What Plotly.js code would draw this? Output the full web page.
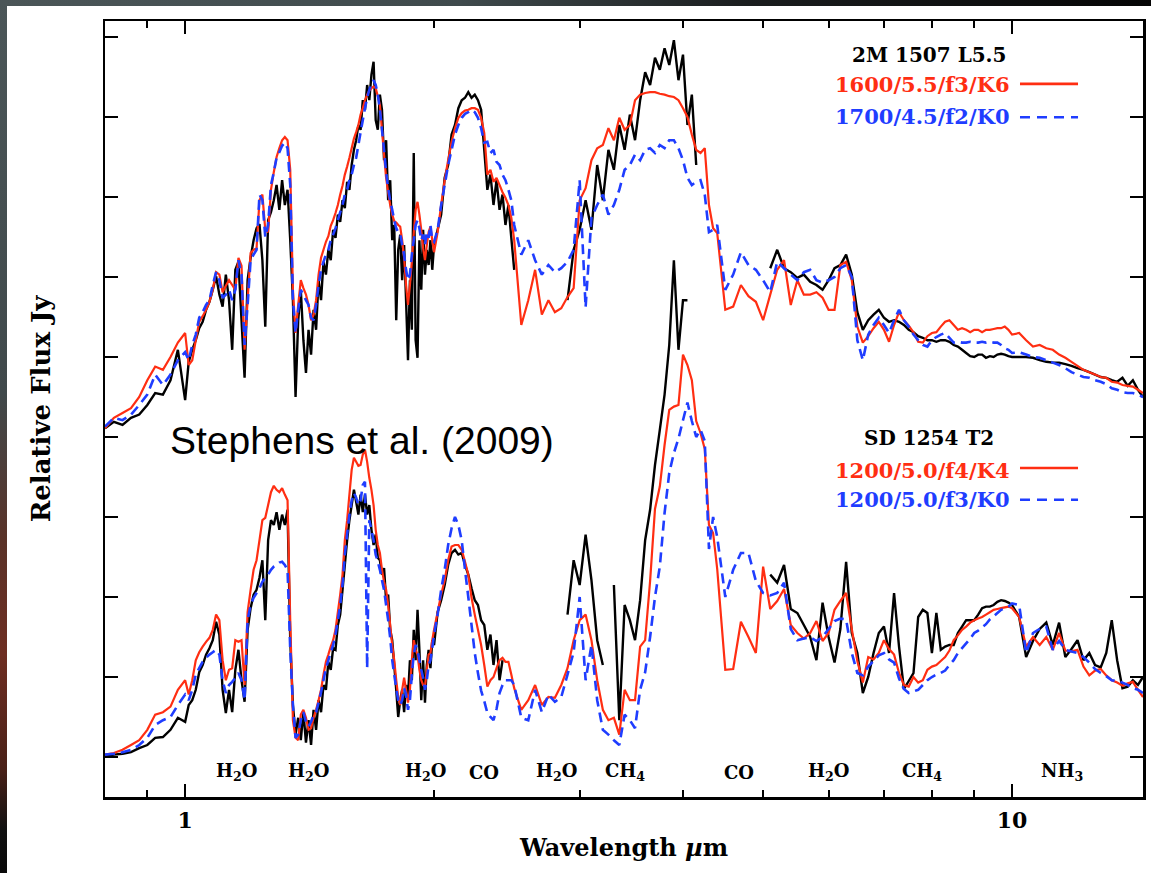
<!DOCTYPE html>
<html>
<head>
<meta charset="utf-8">
<script src="https://cdn.plot.ly/plotly-3.0.1.min.js"></script>
<style>
html, body { margin: 0; padding: 0; background: #fff; }
#wrap { position: relative; width: 1151px; height: 873px; overflow: hidden; }
#chart { position: absolute; left: 0; top: 0; width: 1151px; height: 873px; }
#edgeTop { position: absolute; left: 0; top: 0; width: 1151px; height: 6px;
  background: linear-gradient(to right, #4b5658 0%, #3f4a4c 40%, #1a1d1e 65%, #050505 100%); }
#edgeLeft { position: absolute; left: 0; top: 0; width: 7px; height: 873px;
  background: linear-gradient(to bottom, #4b5658 0%, #40494b 45%, #5a3228 62%, #6e2e22 75%, #4a2118 88%, #111 95%, #0a0a0a 100%); }
</style>
</head>
<body>
<div id="wrap">
  <div id="chart"></div>
  <div id="edgeTop"></div>
  <div id="edgeLeft"></div>
</div>
<script>
// Wavelength grid (micron) shared by all spectra
const wavelength = [
  0.80,0.82,0.84,0.86,0.88,0.90,0.92,0.94,0.96,0.98,
  1.00,1.01,1.02,1.03,1.04,1.05,1.06,1.07,1.08,1.09,
  1.10,1.11,1.12,1.13,1.14,1.15,1.16,1.17,1.18,1.19,
  1.20,1.21,1.22,1.23,1.24,1.25,1.26,1.27,1.28,1.29,
  1.30,1.31,1.32,1.33,1.34,1.35,1.36,1.37,1.38,1.39,
  1.40,1.41,1.42,1.43,1.44,1.45,1.46,1.47,1.48,1.49,
  1.50,1.51,1.52,1.53,1.54,1.55,1.56,1.57,1.58,1.59,
  1.60,1.61,1.62,1.63,1.64,1.65,1.66,1.67,1.68,1.69,
  1.70,1.71,1.72,1.73,1.74,1.75,1.76,1.77,1.78,1.79,
  1.80,1.81,1.82,1.83,1.84,1.85,1.86,1.87,1.88,1.89,
  1.90,1.91,1.92,1.93,1.94,1.95,1.96,1.97,1.98,1.99,
  2.00,
  2.02,2.04,2.06,2.08,2.10,2.12,2.14,2.16,2.18,2.20,2.22,2.24,2.26,2.28,2.30,2.32,2.34,2.36,2.38,2.40,2.42,2.44,2.46,2.48,2.50,
  2.55,2.60,2.65,2.70,2.75,2.80,2.85,2.90,2.95,3.00,
  3.05,3.10,3.15,3.20,3.25,3.30,3.35,3.40,3.45,3.50,
  3.55,3.60,3.65,3.70,3.75,3.80,3.85,3.90,3.95,4.00,
  4.05,4.10,4.15,4.20,4.25,4.30,4.35,4.40,
  4.5,4.6,4.7,4.8,4.9,5.0,5.1,5.2,5.3,5.4,
  5.5,5.6,5.7,5.8,5.9,6.0,6.1,6.2,6.3,6.4,
  6.5,6.6,6.7,6.8,6.9,7.0,7.1,7.2,7.3,7.4,
  7.5,7.6,7.7,7.8,7.9,8.0,8.1,8.2,8.3,8.4,
  8.5,8.6,8.7,8.8,8.9,9.0,9.1,9.2,9.3,9.4,
  9.5,9.6,9.7,9.8,9.9,10.0,
  10.2,10.4,10.6,10.8,11.0,11.2,11.4,11.6,11.8,12.0,12.2,12.4,12.6,12.8,13.0,13.2,13.4,13.6,13.8,14.0,14.2,14.4
];

// 2M 1507 L5.5 (offset upward) -- observed spectrum
const l55Observed = [
  4.11,4.19,4.15,4.24,4.28,4.40,4.55,4.53,4.71,5.09,
  4.46,4.94,5.09,5.21,5.36,5.44,5.59,5.69,5.84,6.01,
  5.78,5.63,6.03,5.71,5.09,6.09,6.19,5.46,4.74,5.96,
  6.24,6.46,6.61,6.66,6.21,5.38,6.71,6.81,6.96,7.15,
  6.84,7.21,6.90,7.09,6.46,5.71,4.50,5.46,5.84,5.21,
  4.80,5.34,5.03,5.59,5.34,5.96,5.71,6.19,6.03,6.34,
  6.21,6.59,6.49,6.78,6.69,6.96,6.86,7.19,7.09,7.40,
  7.59,7.71,7.90,7.84,8.21,8.09,8.40,8.21,8.53,8.69,
  7.96,7.84,8.28,8.09,7.46,7.71,6.96,7.21,6.46,6.65,
  5.46,6.34,6.53,5.96,6.40,5.71,4.96,5.96,5.34,7.55,
  5.21,4.99,6.46,5.84,6.59,6.03,6.34,6.15,6.46,6.09,
  6.40,
  6.59,6.78,7.24,7.40,7.78,7.90,8.11,8.21,8.24,8.31,8.24,8.28,8.21,8.09,7.59,7.09,7.28,6.90,7.21,6.84,7.03,6.65,6.90,6.49,6.09,
  null,null,null,null,null,null,null,5.71,6.34,6.59,
  6.96,6.59,7.40,6.96,7.59,7.34,7.90,7.59,8.03,7.71,
  8.21,8.56,8.40,8.74,8.59,8.86,8.65,8.96,8.46,8.78,
  7.90,8.28,7.40,null,null,null,null,null,
  null,null,null,null,null,null,6.11,6.34,6.11,6.06,
  5.99,6.03,5.94,5.90,5.84,5.96,6.11,6.15,6.28,6.03,
  5.56,5.34,5.46,5.53,5.59,5.49,5.44,5.46,5.44,5.40,
  5.34,5.31,5.26,5.24,5.21,5.21,5.19,5.21,5.21,5.19,
  5.15,5.13,5.09,5.05,5.01,5.00,5.03,5.03,4.99,5.01,
  5.00,5.03,5.04,5.03,5.01,5.00,
  5.00,5.00,4.99,4.96,4.94,4.93,4.93,4.91,4.89,4.86,4.84,4.81,4.78,4.75,4.74,4.71,4.69,4.74,4.64,4.71,4.59,4.50
];

// Model 1600/5.5/f3/K6
const l55ModelA = [
  4.11,4.24,4.30,4.36,4.50,4.71,4.88,4.84,5.00,5.18,
  5.30,4.90,4.96,5.21,5.44,5.51,5.59,5.69,5.84,6.06,
  6.03,5.81,5.89,5.96,5.90,5.84,6.24,6.14,5.09,5.71,
  6.30,6.34,6.36,6.96,7.03,6.59,6.56,7.09,7.31,7.50,
  7.61,7.71,7.75,7.71,7.34,5.84,5.30,5.65,5.96,5.86,
  5.78,5.65,5.46,5.53,5.71,6.03,6.24,6.34,6.44,6.51,
  6.64,6.71,6.80,6.90,7.03,7.14,7.28,7.38,7.49,7.61,
  7.73,7.81,7.90,8.03,8.11,8.21,8.28,8.33,8.36,8.38,
  8.36,8.26,8.15,7.84,7.53,7.24,7.06,6.90,6.78,6.70,
  6.68,6.65,6.63,6.46,6.24,5.90,5.65,5.90,6.19,6.55,
  6.84,6.94,6.78,6.59,6.36,6.21,6.40,6.56,6.63,6.46,
  6.31,
  6.56,6.90,7.21,7.46,7.69,7.86,7.99,8.05,8.08,8.09,8.11,8.11,8.09,7.99,7.80,7.28,7.34,7.19,7.24,7.15,7.06,6.99,6.90,6.74,6.46,
  5.40,5.71,6.09,5.53,5.71,5.56,5.61,5.75,5.86,6.96,
  7.11,7.46,7.61,7.65,7.86,7.71,7.99,7.84,7.90,8.21,
  8.28,8.30,8.31,8.31,8.29,8.28,8.26,8.25,8.21,8.11,
  8.00,7.78,7.59,7.55,7.61,6.90,6.61,6.55,
  5.59,5.63,5.90,5.76,5.69,5.46,5.78,6.09,6.21,5.65,
  5.96,5.78,5.78,5.81,5.74,5.59,5.59,6.15,6.19,5.96,
  5.38,5.18,5.26,5.36,5.44,5.34,5.19,5.40,5.56,5.46,
  5.39,5.31,5.19,5.18,5.26,5.30,5.31,5.38,5.44,5.46,
  5.40,5.34,5.36,5.34,5.31,5.34,5.34,5.31,5.34,5.34,
  5.35,5.36,5.36,5.38,5.34,5.28,
  5.30,5.21,5.13,5.15,5.11,5.09,5.03,4.99,4.94,4.89,4.84,4.81,4.78,4.75,4.74,4.69,4.68,4.65,4.64,4.63,4.59,4.55
];

// Model 1700/4.5/f2/K0
const l55ModelB = [
  4.13,4.24,4.21,4.28,4.40,4.53,4.78,4.65,4.78,4.96,
  5.06,4.96,5.15,5.28,5.49,5.56,5.65,5.71,5.90,6.06,
  5.96,5.74,5.78,5.84,5.71,5.84,6.21,6.03,5.15,5.65,
  6.21,6.28,6.34,7.03,6.96,6.50,6.65,7.15,7.31,7.49,
  7.56,7.64,7.68,7.61,7.15,5.71,5.30,5.59,5.84,5.78,
  5.71,5.65,5.49,5.46,5.65,5.90,6.09,6.19,6.28,6.34,
  6.46,6.53,6.61,6.71,6.81,6.90,7.03,7.09,7.21,7.28,
  7.40,7.49,7.65,7.81,7.96,8.11,8.24,8.34,8.41,8.46,
  8.40,8.28,8.09,7.84,7.59,7.31,7.11,6.96,6.84,6.71,
  6.61,6.56,6.55,6.40,6.28,6.09,5.96,6.03,6.28,6.46,
  6.65,6.71,6.61,6.46,6.53,6.40,6.56,6.49,6.65,6.46,
  6.44,
  6.59,6.90,7.15,7.40,7.59,7.78,7.90,7.99,8.04,8.06,8.09,8.06,7.99,7.86,7.68,7.69,7.55,7.59,7.44,7.40,7.28,7.21,7.09,6.96,6.65,
  6.28,6.46,6.21,6.03,6.15,6.06,6.11,6.19,6.34,7.21,
  5.62,6.74,6.90,7.03,6.78,6.90,7.09,7.34,7.40,7.53,
  7.46,7.59,7.61,7.55,7.65,7.61,7.71,7.71,7.61,7.46,
  7.24,7.15,7.19,7.21,7.03,6.56,6.59,6.65,
  5.84,6.03,6.31,6.15,6.09,5.96,5.81,6.19,6.11,6.03,
  5.96,6.06,6.09,5.96,5.93,5.96,6.00,6.11,6.15,6.00,
  5.21,4.96,5.28,5.40,5.49,5.40,5.30,5.46,5.59,5.46,
  5.38,5.28,5.21,5.15,5.13,5.21,5.25,5.28,5.30,5.24,
  5.18,5.19,5.18,5.18,5.19,5.18,5.18,5.19,5.18,5.19,
  5.18,5.18,5.15,5.11,5.09,5.05,
  5.06,5.03,5.00,4.99,4.96,4.93,4.90,4.86,4.81,4.78,4.75,4.74,4.71,4.69,4.66,4.61,4.59,4.56,4.55,4.55,4.53,4.50
];

// SD 1254 T2 -- observed spectrum
const t2Observed = [
  0.01,0.03,0.04,0.06,0.11,0.15,0.24,0.25,0.34,0.49,
  0.44,0.65,0.71,0.84,1.06,1.15,1.28,1.36,1.46,1.69,
  1.53,0.84,0.55,0.84,0.56,1.09,1.34,0.96,0.69,1.59,
  1.86,2.03,2.09,2.24,2.46,1.71,2.71,2.96,2.90,3.06,
  2.84,3.03,2.90,3.09,1.46,0.65,0.28,0.49,0.21,0.56,
  0.18,0.46,0.15,0.59,0.34,0.71,0.56,0.90,0.84,1.19,
  1.09,1.36,1.34,1.65,1.78,2.09,2.40,2.71,2.96,3.15,
  3.34,3.19,3.03,3.28,3.06,3.28,3.03,3.15,2.84,2.65,
  2.78,2.49,2.46,2.28,2.36,1.96,2.03,1.59,1.46,1.15,
  0.84,0.50,0.71,0.84,0.56,0.90,0.75,1.21,0.96,1.59,
  1.21,1.84,1.34,0.71,1.21,0.68,1.15,1.34,1.11,1.46,
  1.40,
  1.81,1.96,2.15,2.40,2.55,2.59,2.53,2.55,2.40,2.28,2.11,1.96,1.90,1.71,1.65,1.34,1.53,1.15,1.46,0.96,1.21,null,null,null,null,
  null,null,null,null,null,null,null,1.78,2.46,2.15,
  2.78,2.21,1.46,1.15,null,2.15,0.46,1.90,1.71,1.46,
  1.96,2.71,3.09,3.65,4.09,4.53,5.15,6.21,5.09,5.71,
  5.71,null,null,null,null,null,null,null,
  null,null,null,null,null,null,2.28,2.18,2.40,1.85,
  1.80,1.65,1.50,1.21,1.93,1.50,1.18,1.60,2.44,1.55,
  1.30,0.80,1.00,1.30,1.55,1.63,1.30,2.05,1.38,0.85,
  0.95,1.05,1.75,1.84,1.80,1.30,1.80,1.34,1.38,1.40,
  1.40,1.55,1.63,1.71,1.71,1.71,1.78,1.86,1.88,1.88,
  1.90,1.94,1.96,1.95,1.93,1.90,
  1.75,1.25,1.45,1.60,1.68,1.40,1.68,1.25,1.35,1.46,1.21,1.30,1.15,1.12,1.30,1.71,1.21,0.86,0.88,0.96,0.90,1.00
];

// Model 1200/5.0/f4/K4
const t2ModelA = [
  0.03,0.05,0.09,0.15,0.21,0.34,0.53,0.56,0.63,0.84,
  0.96,0.78,0.96,1.21,1.31,1.38,1.44,1.49,1.59,1.78,
  1.71,1.21,0.96,1.09,1.11,1.46,1.44,1.46,0.90,1.81,
  2.09,2.34,2.46,2.71,2.96,2.99,3.15,3.31,3.39,3.34,
  3.31,3.36,3.28,3.21,1.71,0.46,0.24,0.21,0.53,0.59,
  0.49,0.34,0.36,0.49,0.59,0.71,0.84,1.03,1.19,1.28,
  1.38,1.46,1.59,1.81,2.03,2.28,2.71,2.96,3.28,3.59,
  3.74,3.69,3.64,3.65,3.78,3.84,3.69,3.49,3.34,3.15,
  2.84,2.65,2.55,2.34,2.19,2.09,1.90,1.65,1.40,1.21,
  0.96,0.75,0.65,0.84,0.99,0.84,0.68,0.84,1.21,1.46,
  1.34,1.28,1.09,0.96,0.90,0.88,1.09,1.28,1.30,1.46,
  1.59,
  1.81,2.03,2.21,2.46,2.63,2.65,2.65,2.59,2.44,2.28,1.99,1.78,1.59,1.40,1.15,0.88,0.96,1.00,1.11,1.21,1.24,1.19,1.19,1.03,0.86,
  0.59,0.71,0.90,0.65,0.75,0.74,0.90,1.11,1.46,1.71,
  1.78,1.46,0.96,0.59,0.46,0.49,0.28,0.84,0.71,0.71,
  1.38,1.46,2.20,3.10,3.38,3.90,4.34,4.38,4.40,5.03,
  4.90,4.71,4.20,4.05,3.85,2.90,2.80,2.35,
  1.09,1.10,1.69,1.50,1.30,2.38,1.85,1.95,2.10,1.65,
  1.55,1.48,1.55,1.70,1.45,1.55,1.84,1.95,2.05,1.60,
  1.20,0.93,1.25,1.22,1.30,1.46,1.35,1.28,1.05,0.90,
  0.88,1.00,0.93,0.96,1.09,1.13,1.15,1.20,1.25,1.33,
  1.46,1.52,1.59,1.63,1.68,1.71,1.73,1.75,1.78,1.81,
  1.84,1.85,1.86,1.87,1.88,1.86,
  1.75,1.38,1.50,1.40,1.50,1.34,1.55,1.33,1.32,1.34,1.13,1.02,1.08,1.10,1.02,0.96,0.93,0.89,0.92,0.94,0.84,0.75
];

// Model 1200/5.0/f3/K0
const t2ModelB = [
  0.03,0.04,0.06,0.09,0.15,0.24,0.40,0.46,0.50,0.65,
  0.78,0.71,0.84,1.03,1.11,1.19,1.24,1.28,1.31,1.34,
  1.28,0.96,0.80,0.90,0.94,0.99,1.05,0.96,0.71,1.71,
  1.90,1.99,2.05,2.11,2.19,2.24,2.28,2.34,2.38,2.40,
  2.43,2.44,2.40,2.34,1.34,0.65,0.24,0.28,0.46,0.56,
  0.44,0.38,0.44,0.53,0.56,0.68,0.81,0.96,1.11,1.21,
  1.31,1.40,1.53,1.71,1.90,2.15,2.53,2.78,3.03,3.21,
  3.30,3.24,3.15,3.21,3.40,3.44,1.11,2.96,2.84,2.71,
  2.53,2.44,2.34,2.21,2.09,1.90,1.71,1.49,1.21,1.03,
  0.86,0.71,0.65,0.71,0.86,0.78,0.59,0.71,1.03,1.28,
  1.40,1.34,1.21,1.09,0.99,0.84,0.96,1.15,1.21,1.36,
  1.53,
  1.78,2.09,2.34,2.65,2.86,3.00,2.90,2.71,2.34,2.00,1.65,1.30,1.05,0.83,0.70,0.55,0.50,0.46,0.60,0.80,0.90,0.96,0.96,0.96,0.90,
  0.49,0.46,0.84,0.56,0.78,0.69,0.75,1.03,1.31,2.00,
  0.96,1.40,0.71,0.34,0.28,0.21,0.15,0.53,0.46,0.36,
  0.84,1.06,1.50,2.00,2.38,3.05,3.55,3.80,3.98,4.21,
  4.43,4.20,4.00,4.09,3.95,2.60,3.00,2.75,
  2.00,2.34,2.55,2.55,2.20,2.05,2.02,2.05,2.18,1.60,
  1.46,1.48,1.50,1.45,1.50,1.60,1.70,1.73,1.72,1.30,
  1.05,1.02,1.13,1.20,1.27,1.30,1.22,1.18,0.98,0.85,
  0.80,0.82,0.84,0.90,0.96,1.00,1.03,1.05,1.08,1.15,
  1.21,1.30,1.36,1.42,1.48,1.55,1.58,1.62,1.66,1.72,
  1.76,1.80,1.84,1.86,1.88,1.92,
  1.90,1.30,1.55,1.60,1.63,1.34,1.45,1.34,1.32,1.30,1.25,1.18,1.10,1.05,1.01,0.96,0.95,0.93,0.90,0.86,0.84,0.80
];

// Absorption band labels
const bandWave = [1.155, 1.41, 1.955, 2.30, 2.81, 3.40, 4.68, 6.0, 7.79, 11.5];
const bandText = ['H<sub>2</sub>O','H<sub>2</sub>O','H<sub>2</sub>O','CO','H<sub>2</sub>O','CH<sub>4</sub>','CO','H<sub>2</sub>O','CH<sub>4</sub>','NH<sub>3</sub>'];

// Key text for both objects
const upperKey = ['2M 1507 L5.5', '1600/5.5/f3/K6', '1700/4.5/f2/K0'];
const lowerKey = ['SD 1254 T2', '1200/5.0/f4/K4', '1200/5.0/f3/K0'];

const RED = '#ff2e12';
const BLUE = '#1f3dff';
const SERIF = '"DejaVu Serif", serif';

function spectrum(y, color, width, dash) {
  return {
    x: wavelength, y: y, type: 'scatter', mode: 'lines',
    connectgaps: false, hoverinfo: 'skip',
    line: { color: color, width: width, dash: dash || 'solid', simplify: false }
  };
}

const traces = [
  spectrum(l55Observed, '#000', 2.4),
  spectrum(t2Observed, '#000', 2.4),
  spectrum(l55ModelA, RED, 2.2),
  spectrum(t2ModelA, RED, 2.2),
  spectrum(l55ModelB, BLUE, 2.6, '10px,6px'),
  spectrum(t2ModelB, BLUE, 2.6, '10px,6px')
];

const annotations = [];
bandWave.forEach(function (w, i) {
  annotations.push({
    x: Math.log10(w), y: -0.19, xref: 'x', yref: 'y',
    text: '<b>' + bandText[i] + '</b>', showarrow: false,
    font: { family: SERIF, size: 18, color: '#000' }
  });
});

function keyBlock(lines, yHead, yA, yB) {
  annotations.push({ x: 0.794, y: yHead, xref: 'paper', yref: 'paper', text: '<b>' + lines[0] + '</b>', showarrow: false,
    xanchor: 'center', yanchor: 'middle', font: { family: SERIF, size: 20, color: '#000' } });
  annotations.push({ x: 0.874, y: yA, xref: 'paper', yref: 'paper', text: '<b>' + lines[1] + '</b>', showarrow: false,
    xanchor: 'right', yanchor: 'middle', font: { family: SERIF, size: 21, color: RED } });
  annotations.push({ x: 0.874, y: yB, xref: 'paper', yref: 'paper', text: '<b>' + lines[2] + '</b>', showarrow: false,
    xanchor: 'right', yanchor: 'middle', font: { family: SERIF, size: 21, color: BLUE } });
}
keyBlock(upperKey, 0.956, 0.918, 0.877);
keyBlock(lowerKey, 0.463, 0.421, 0.383);

annotations.push({
  x: 0.2476, y: 0.46, xref: 'paper', yref: 'paper', text: 'Stephens et al. (2009)',
  showarrow: false, xanchor: 'center', yanchor: 'middle',
  font: { family: '"Liberation Sans", Arial, sans-serif', size: 39, color: '#000' }
});

function keyLine(y, color, dash) {
  return { type: 'line', xref: 'paper', yref: 'paper', x0: 0.8815, x1: 0.9374, y0: y, y1: y,
    line: { color: color, width: 2.6, dash: dash } };
}
const shapes = [
  keyLine(0.919, RED, 'solid'),
  keyLine(0.876, BLUE, '10px,7px'),
  keyLine(0.424, RED, 'solid'),
  keyLine(0.383, BLUE, '10px,7px')
];

const layout = {
  width: 1151, height: 873,
  margin: { l: 105, r: 8, t: 21, b: 76, pad: 0 },
  paper_bgcolor: '#fff', plot_bgcolor: '#fff',
  showlegend: false,
  font: { family: SERIF, color: '#000', size: 20 },
  xaxis: {
    type: 'log', range: [Math.log10(0.8), Math.log10(14.4)],
    tickmode: 'array', tickvals: [1, 10], ticktext: ['<b>1</b>', '<b>10</b>'],
    ticks: 'inside', ticklen: 13, tickwidth: 2, tickcolor: '#000',
    ticklabelstandoff: 2,
    tickfont: { family: SERIF, size: 22, color: '#000' },
    minor: { tickmode: 'array', tickvals: [0.8, 0.9, 2, 3, 4, 5, 6, 7, 8, 9],
      ticks: 'inside', ticklen: 7, tickwidth: 2, tickcolor: '#000', showgrid: false },
    showline: true, linewidth: 2.5, linecolor: '#000', mirror: 'ticks',
    showgrid: false, zeroline: false, automargin: false,
    title: { text: '<b>Wavelength <i>µ</i>m</b>', standoff: 8,
      font: { family: SERIF, size: 24, color: '#000' } }
  },
  yaxis: {
    range: [-0.5, 9.2], tickmode: 'linear', tick0: 0, dtick: 1,
    ticks: 'inside', ticklen: 13, tickwidth: 2, tickcolor: '#000',
    showticklabels: false,
    showline: true, linewidth: 2.5, linecolor: '#000', mirror: 'ticks',
    showgrid: false, zeroline: false, automargin: false,
    title: { text: '<b>Relative Flux Jy</b>', standoff: 45,
      font: { family: SERIF, size: 26, color: '#000' } }
  },
  annotations: annotations,
  shapes: shapes
};

Plotly.newPlot('chart', traces, layout, { staticPlot: true, displayModeBar: false });
</script>
</body>
</html>
